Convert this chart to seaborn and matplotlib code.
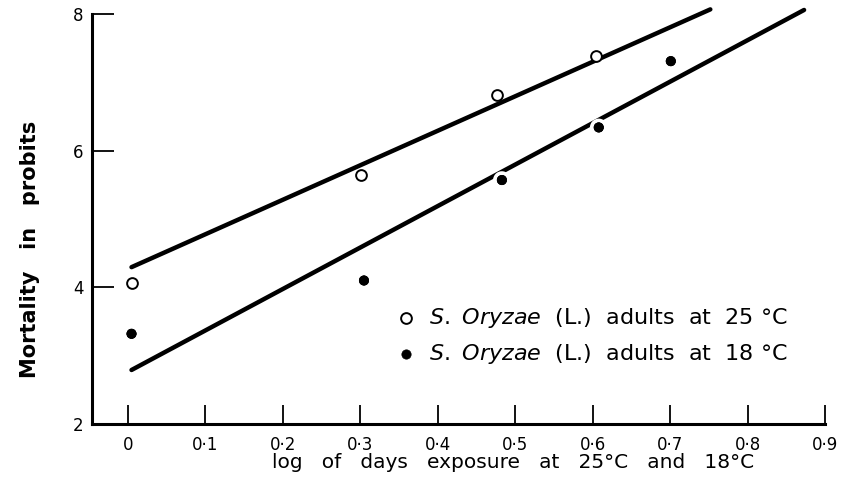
import numpy as np
import pandas as pd
import matplotlib
matplotlib.use("Agg")
import matplotlib.pyplot as plt
import matplotlib.patheffects as pe
import seaborn as sns

# observed probits
x_25 = [0.005, 0.301, 0.477, 0.604]
y_25 = [4.07, 5.65, 6.81, 7.38]
x_18 = [0.005, 0.305, 0.483, 0.608, 0.701]
y_18 = [3.32, 4.10, 5.57, 6.34, 7.31]

# fitted lines: intercept, slope, x range
fit_25 = (4.27, 5.05)
fit_x_25 = [0.005, 0.752]
fit_18 = (2.76, 6.07)
fit_x_18 = [0.005, 0.873]

x_ticks = [0, 0.1, 0.2, 0.3, 0.4, 0.5, 0.6, 0.7, 0.8, 0.9]
x_tick_labels = ["0", "0·1", "0·2", "0·3", "0·4", "0·5", "0·6", "0·7", "0·8", "0·9"]
y_ticks = [2, 4, 6, 8]

label_25 = r"$\it{S.\ Oryzae}$  (L.)  adults  at  25 °C"
label_18 = r"$\it{S.\ Oryzae}$  (L.)  adults  at  18 °C"

sns.set_style("ticks", {"axes.edgecolor": "black", "text.color": "black",
                        "axes.labelcolor": "black", "xtick.color": "black",
                        "ytick.color": "black"})
plt.rcParams["font.family"] = ["DejaVu Sans"]

fig = plt.figure(figsize=(8.56, 4.91), dpi=100)
ax = fig.add_axes([92 / 856, 1 - 424 / 491, 733 / 856, 410 / 491])

lines = pd.DataFrame({
    "x": fit_x_25 + fit_x_18,
    "y": [fit_25[0] + fit_25[1] * v for v in fit_x_25] + [fit_18[0] + fit_18[1] * v for v in fit_x_18],
    "temp": ["25"] * 2 + ["18"] * 2,
})
sns.lineplot(data=lines, x="x", y="y", units="temp", estimator=None, color="black",
             linewidth=3.2, solid_capstyle="round", ax=ax, legend=False, clip_on=False)

sns.scatterplot(x=x_25, y=y_25, ax=ax, s=60, facecolor="white", edgecolor="black",
                linewidth=1.4, label=label_25, zorder=4)
sns.scatterplot(x=x_18, y=y_18, ax=ax, s=45, color="black", edgecolor="black",
                linewidth=0.5, label=label_18, zorder=5)
ax.collections[-1].set_path_effects([pe.withStroke(linewidth=6, foreground="white"), pe.Normal()])

ax.set_xlim(-0.046, 0.9)
ax.set_ylim(2, 8)
ax.set_xticks(x_ticks)
ax.set_xticklabels(x_tick_labels, fontsize=12)
ax.set_yticks(y_ticks)
ax.set_yticklabels([str(v) for v in y_ticks], fontsize=12)
ax.tick_params(axis="x", direction="in", length=14, width=1.3, pad=9)
ax.tick_params(axis="y", direction="in", length=16, width=1.3, pad=6)

sns.despine(ax=ax)
ax.spines["left"].set_linewidth(2.2)
ax.spines["bottom"].set_linewidth(2.2)

ax.set_xlabel("log   of   days   exposure   at   25°C   and   18°C", fontsize=14.5, va="center")
ax.xaxis.set_label_coords(0.574, -0.095)
ax.set_ylabel("Mortality   in   probits", fontsize=15, fontweight="bold", va="center")
ax.yaxis.set_label_coords(-0.085, 0.427)

leg = ax.legend(loc="upper left", bbox_to_anchor=(0.401, 0.31), frameon=False, fontsize=16,
                handletextpad=0.55, labelspacing=0.55, handlelength=1.0, borderaxespad=0)
for h in leg.legend_handles:
    h.set_path_effects([])

fig.savefig("out.png", dpi=100, facecolor="white")
